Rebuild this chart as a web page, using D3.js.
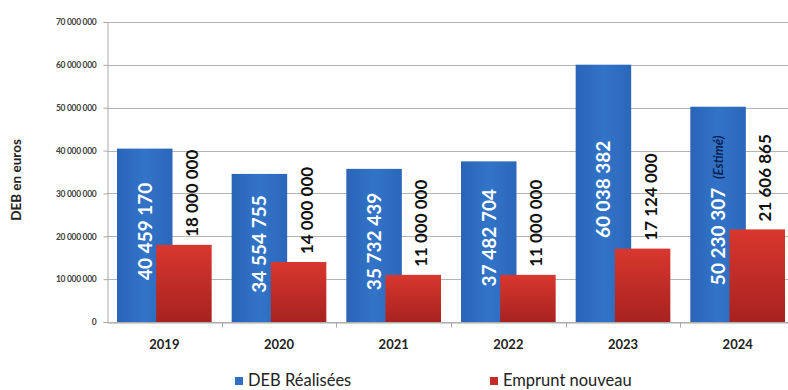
<!DOCTYPE html>
<html>
<head>
<meta charset="utf-8">
<script src="https://cdn.jsdelivr.net/npm/d3@7"></script>
<style>
  html, body { margin: 0; padding: 0; background: #fff; }
  svg { display: block; font-family: Lato, "Open Sans", sans-serif; }
</style>
</head>
<body>
<svg id="chart" width="788" height="390"></svg>
<script>
// Annual figures (euros)
const years = ["2019", "2020", "2021", "2022", "2023", "2024"];
const debRealisees = [40459170, 34554755, 35732439, 37482704, 60038382, 50230307];
const empruntNouveau = [18000000, 14000000, 11000000, 11000000, 17124000, 21606865];
const estimatedYears = ["2024"];
const yTicks = [0, 10000000, 20000000, 30000000, 40000000, 50000000, 60000000, 70000000];
const seriesNames = ["DEB Réalisées", "Emprunt nouveau"];

const svg = d3.select("#chart");
const plotLeft = 107, plotRight = 795, plotTop = 22, plotBottom = 322;

const x = d3.scaleBand().domain(years).range([plotLeft, plotRight]);
const y = d3.scaleLinear().domain([0, 70000000]).range([plotBottom, plotTop]);

// French thousands separator (space)
const fmt = v => d3.format(",")(v).replace(/,/g, " ");

// Gradients
const defs = svg.append("defs");
const gB = defs.append("linearGradient").attr("id", "gBlue").attr("x1", 0).attr("x2", 1).attr("y1", 0).attr("y2", 0);
gB.append("stop").attr("offset", "0%").attr("stop-color", "#2a64b6");
gB.append("stop").attr("offset", "50%").attr("stop-color", "#3274c8");
gB.append("stop").attr("offset", "100%").attr("stop-color", "#2b67ba");
const gR = defs.append("linearGradient").attr("id", "gRed").attr("x1", 0).attr("x2", 0).attr("y1", 0).attr("y2", 1);
gR.append("stop").attr("offset", "0%").attr("stop-color", "#d8372e");
gR.append("stop").attr("offset", "100%").attr("stop-color", "#a82220");

// Gridlines
svg.append("g").selectAll("line").data(yTicks).join("line")
  .attr("x1", plotLeft).attr("x2", 788)
  .attr("y1", d => Math.round(y(d)) + 0.5).attr("y2", d => Math.round(y(d)) + 0.5)
  .attr("stroke", "#b4b4b4").attr("stroke-width", 1);

// Y axis
const yAxis = d3.axisLeft(y).tickValues(yTicks).tickSize(4).tickFormat(fmt);
const gy = svg.append("g").attr("transform", `translate(${plotLeft + 0.5},0)`).call(yAxis);
gy.select(".domain").attr("stroke", "#a8a8a8");
gy.selectAll(".tick line").attr("stroke", "#a8a8a8");
gy.selectAll(".tick text").attr("x", -11)
  .attr("font-family", "Lato, sans-serif").attr("font-size", 8.5).attr("font-weight", "bold")
  .attr("fill", "#404040").attr("letter-spacing", -0.3);

// X axis
const xAxis = d3.axisBottom(x).tickSize(0).tickPadding(17);
const gx = svg.append("g").attr("transform", `translate(0,${plotBottom + 0.5})`).call(xAxis);
gx.select(".domain").attr("stroke", "#a8a8a8");
gx.selectAll(".tick text").attr("font-family", "Lato, sans-serif").attr("font-size", 13)
  .attr("font-weight", "bold").attr("fill", "#222");
// category separators
gx.append("g").selectAll("line").data(years.slice(1)).join("line")
  .attr("x1", d => Math.round(x(d)) + 0.5).attr("x2", d => Math.round(x(d)) + 0.5)
  .attr("y1", 0).attr("y2", 5).attr("stroke", "#a8a8a8");

const bw = x.bandwidth();
const barW = 55.5, offB = 10, offR = bw - 10 - barW;

// Blue bars
svg.append("g").selectAll("rect").data(years).join("rect")
  .attr("x", (d) => x(d) + offB).attr("width", barW)
  .attr("y", (d, i) => y(debRealisees[i])).attr("height", (d, i) => plotBottom - y(debRealisees[i]))
  .attr("fill", "url(#gBlue)");

// Red bars
svg.append("g").selectAll("rect").data(years).join("rect")
  .attr("x", (d) => x(d) + offR).attr("width", barW)
  .attr("y", (d, i) => y(empruntNouveau[i])).attr("height", (d, i) => plotBottom - y(empruntNouveau[i]))
  .attr("fill", "url(#gRed)");

// Blue labels, centred in the bars, rotated
svg.append("g").selectAll("text").data(years).join("text")
  .attr("transform", (d, i) => {
    const cx = x(d) + offB + barW / 2 + 7;
    const cy = (y(debRealisees[i]) + plotBottom) / 2 - 4;
    return `translate(${cx},${cy}) rotate(-90)`;
  })
  .attr("text-anchor", "middle")
  .attr("font-family", "Lato, sans-serif").attr("font-weight", "bold").attr("font-size", 19)
  .attr("fill", "#fff")
  .each(function (d, i) {
    const t = d3.select(this);
    t.append("tspan").text(fmt(debRealisees[i]));
    if (estimatedYears.includes(d)) {
      t.append("tspan").text(" (Estimé)").attr("font-size", 13).attr("font-style", "italic")
        .attr("fill", "#0d2050").attr("dx", 6).attr("dy", -2);
    }
  });

// Red labels, above the bars
svg.append("g").selectAll("text").data(years).join("text")
  .attr("transform", (d, i) => {
    const cx = x(d) + offR + barW / 2 + 14;
    const cy = y(empruntNouveau[i]) - 8;
    return `translate(${cx},${cy}) rotate(-90)`;
  })
  .attr("text-anchor", "start")
  .attr("font-family", "Lato, sans-serif").attr("font-weight", "bold").attr("font-size", 17)
  .attr("fill", "#111")
  .text((d, i) => fmt(empruntNouveau[i]));

// Y axis title
svg.append("text")
  .attr("transform", "translate(21,180) rotate(-90)")
  .attr("text-anchor", "middle")
  .attr("font-family", "Lato, sans-serif").attr("font-weight", "bold").attr("font-size", 13.5)
  .attr("fill", "#222")
  .text("DEB en euros");

// Legend
const legendColors = ["#2f6fc4", "#c62c26"];
const legendX = [235, 490];
const lg = svg.append("g").selectAll("g").data(seriesNames).join("g")
  .attr("transform", (d, i) => `translate(${legendX[i]},377)`);
lg.append("rect").attr("width", 8).attr("height", 8).attr("fill", (d, i) => legendColors[i]);
lg.append("text").attr("x", 13).attr("y", 9)
  .attr("font-family", "Lato, sans-serif").attr("font-size", 16.5).attr("fill", "#222")
  .text(d => d);
</script>
</body>
</html>
